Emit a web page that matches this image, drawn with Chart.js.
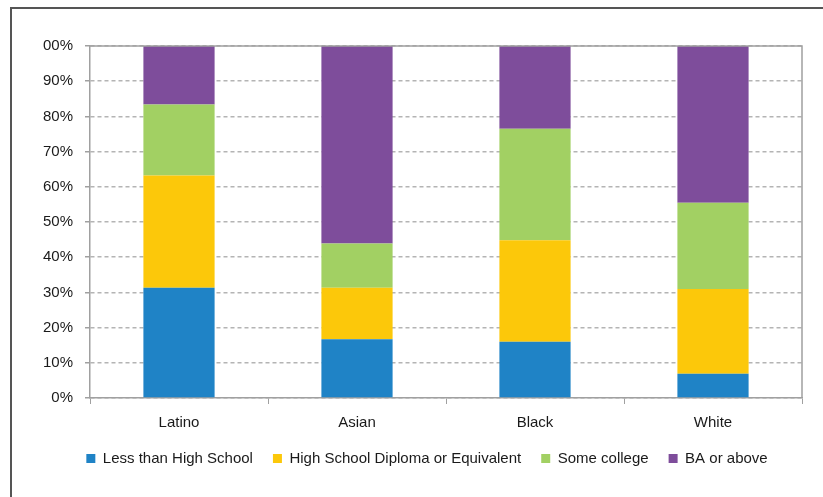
<!DOCTYPE html>
<html>
<head>
<meta charset="utf-8">
<script src="https://cdn.jsdelivr.net/npm/chart.js@4.4.1/dist/chart.umd.min.js"></script>
<style>
  html, body { margin: 0; padding: 0; background: #fff; }
  #wrap { position: relative; width: 823px; height: 497px; overflow: hidden; }
  #moldura {
    position: absolute; left: 10px; top: 7px; right: -5px; bottom: -5px;
    border-left: 2px solid #555; border-top: 2px solid #555;
    pointer-events: none;
  }
  canvas { position: absolute; left: 0; top: 0; }
</style>
</head>
<body>
<div id="wrap">
  <canvas id="grafico" width="823" height="497"></canvas>
  <div id="moldura"></div>
</div>
<script>
// ----------------------------------------------------------------
// Dados
// ----------------------------------------------------------------
const categorias = ['Latino', 'Asian', 'Black', 'White'];

const menosQueMedio   = [31.3, 16.7, 16.0, 6.9];
const ensinoMedio     = [31.9, 14.6, 28.8, 24.1];
const algumaFaculdade = [20.2, 12.6, 31.7, 24.5];
const superior        = [16.6, 56.1, 23.5, 44.5];

const rotulosY = ['0%', '10%', '20%', '30%', '40%', '50%', '60%', '70%', '80%', '90%', '00%'];

// ----------------------------------------------------------------
// Tema
// ----------------------------------------------------------------
const FONTE     = "'Liberation Sans', Arial, sans-serif";
const COR_TEXTO = '#1a1a1a';
const COR_GRADE = '#b4b4b4';
const COR_EIXO  = '#a0a0a0';

const series = [
  { label: 'Less than High School',             data: menosQueMedio,   color: '#1F83C6' },
  { label: 'High School Diploma or Equivalent', data: ensinoMedio,     color: '#FCC80A' },
  { label: 'Some college',                      data: algumaFaculdade, color: '#A2D063' },
  { label: 'BA or above',                       data: superior,        color: '#7E4D9B' },
];

// moldura da área de plotagem (topo e direita)
const bordaArea = {
  id: 'bordaArea',
  afterDatasetsDraw(chart) {
    const { ctx, chartArea: a } = chart;
    ctx.save();
    ctx.strokeStyle = COR_EIXO;
    ctx.lineWidth = 1.5;
    ctx.beginPath();
    ctx.moveTo(a.left, a.top);
    ctx.lineTo(a.right, a.top);
    ctx.lineTo(a.right, a.bottom);
    ctx.stroke();
    ctx.restore();
  },
};

// legenda um pouco deslocada para a direita, como no original
const deslocaLegenda = {
  id: 'deslocaLegenda',
  afterLayout(chart) {
    const lg = chart.legend;
    if (!lg) return;
    lg.left += 20;
    lg.right += 20;
  },
};

new Chart(document.getElementById('grafico'), {
  type: 'bar',
  data: {
    labels: categorias,
    datasets: series.map(s => ({
      label: s.label,
      data: s.data,
      backgroundColor: s.color,
      borderWidth: 0,
      categoryPercentage: 1,
      barPercentage: 0.4,
    })),
  },
  options: {
    responsive: false,
    animation: false,
    layout: { padding: { left: 12, right: 21, top: 46, bottom: 21 } },
    plugins: {
      tooltip: { enabled: false },
      legend: {
        position: 'bottom',
        labels: {
          color: COR_TEXTO,
          font: { family: FONTE, size: 15 },
          boxWidth: 9,
          boxHeight: 9,
          padding: 20,
        },
      },
    },
    scales: {
      x: {
        stacked: true,
        grid: {
          drawOnChartArea: false,
          drawTicks: true,
          tickLength: 6,
          color: COR_EIXO,
          offset: true,
        },
        border: { color: COR_EIXO, width: 1.5 },
        ticks: {
          color: COR_TEXTO,
          font: { family: FONTE, size: 15 },
          padding: 10,
        },
        afterFit: (s) => { s.height = 33; },
      },
      y: {
        stacked: true,
        min: 0,
        max: 100,
        grid: {
          color: COR_GRADE,
          lineWidth: 1.5,
          tickLength: 5,
          tickColor: COR_EIXO,
        },
        border: { color: COR_EIXO, width: 1.5, dash: [4, 3] },
        ticks: {
          stepSize: 10,
          color: COR_TEXTO,
          font: { family: FONTE, size: 15 },
          padding: 12,
          callback: (v) => rotulosY[Math.round(v / 10)],
        },
        afterFit: (s) => { s.width = 78; },
      },
    },
  },
  plugins: [bordaArea, deslocaLegenda],
});
</script>
</body>
</html>
